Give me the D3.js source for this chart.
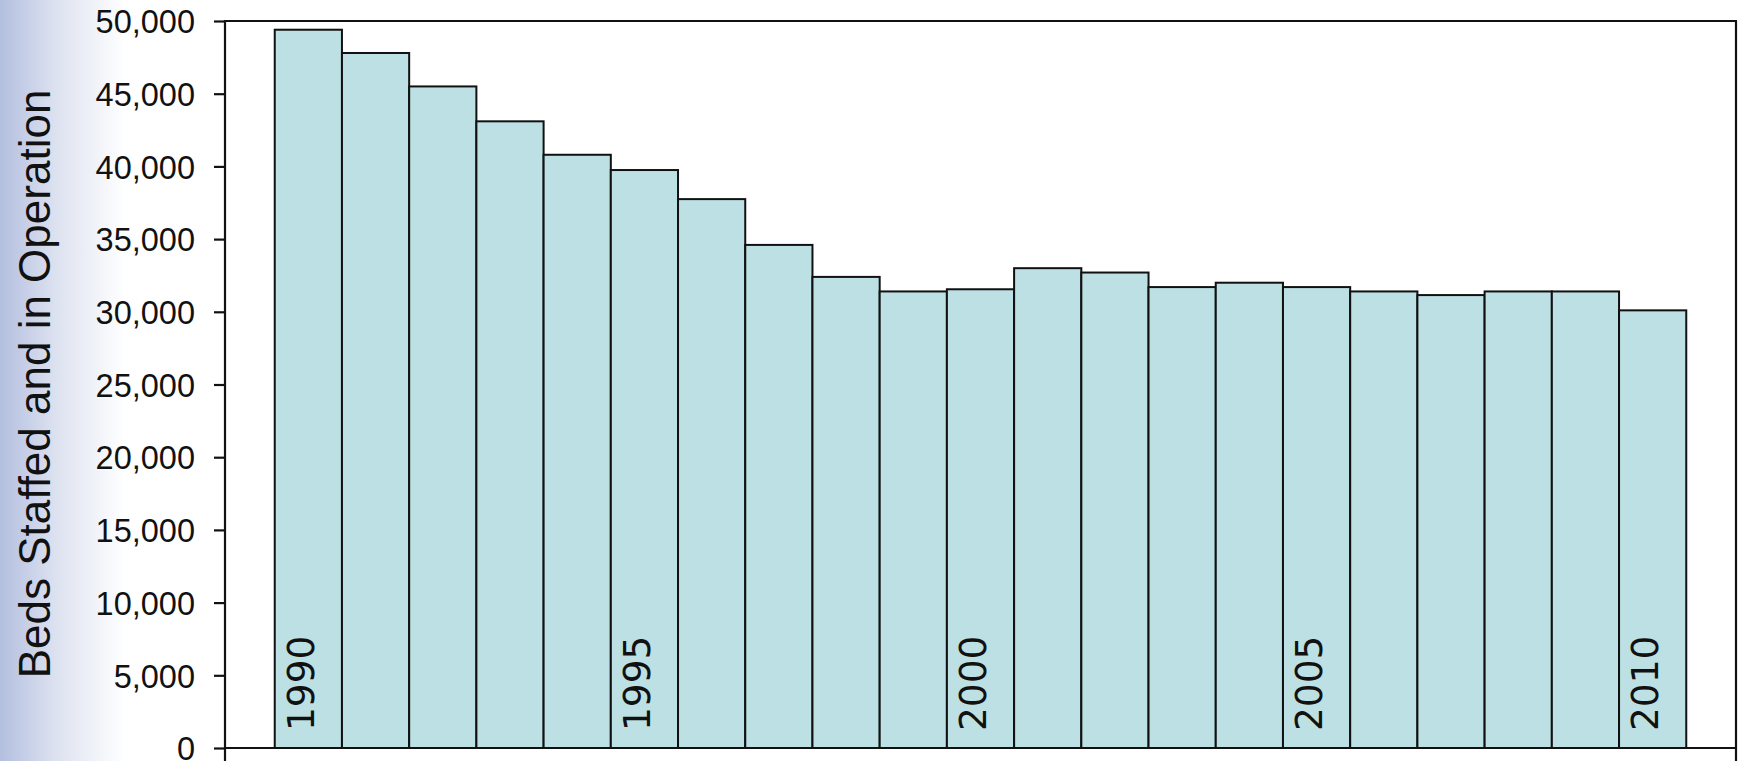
<!DOCTYPE html>
<html>
<head>
<meta charset="utf-8">
<script src="https://cdn.jsdelivr.net/npm/d3@7"></script>
<style>
  html, body { margin: 0; padding: 0; background: #fff; }
  svg { display: block; }
</style>
</head>
<body>
<svg id="chart" width="1738" height="761"></svg>
<script>
// Staffed hospital beds in operation, 1990–2010
const years = [1990, 1991, 1992, 1993, 1994, 1995, 1996, 1997, 1998, 1999, 2000,
               2001, 2002, 2003, 2004, 2005, 2006, 2007, 2008, 2009, 2010];
const beds = [49400, 47800, 45500, 43100, 40800, 39750, 37750, 34600, 32400, 31400, 31550,
              33000, 32700, 31700, 32000, 31700, 31400, 31150, 31400, 31400, 30100];
const labelledYears = [1990, 1995, 2000, 2005, 2010];
const yTicks = [0, 5000, 10000, 15000, 20000, 25000, 30000, 35000, 40000, 45000, 50000];
const yTitle = "Beds Staffed and in Operation";

const W = 1738, H = 761;
const plot = { left: 225, right: 1736, top: 21, bottom: 748 };

const svg = d3.select("#chart");

// soft bluish wash along the left edge
const defs = svg.append("defs");
const grad = defs.append("linearGradient").attr("id", "edgeWash")
  .attr("x1", "0").attr("x2", "1").attr("y1", "0").attr("y2", "0");
grad.append("stop").attr("offset", "0").attr("stop-color", "#b3bfdf");
grad.append("stop").attr("offset", "0.45").attr("stop-color", "#dde2f0");
grad.append("stop").attr("offset", "1").attr("stop-color", "#ffffff");
svg.append("rect").attr("x", 0).attr("y", 0).attr("width", 125).attr("height", H)
  .attr("fill", "url(#edgeWash)");

const x = d3.scaleBand().domain(years).range([plot.left, plot.right])
  .paddingInner(0).paddingOuter(0.74);
const y = d3.scaleLinear().domain([0, 50000]).range([plot.bottom, plot.top]);

// plot area background
svg.append("rect")
  .attr("x", plot.left).attr("y", plot.top)
  .attr("width", plot.right - plot.left).attr("height", plot.bottom - plot.top)
  .attr("fill", "#ffffff");

// bars
svg.append("g").selectAll("rect").data(years).join("rect")
  .attr("x", d => x(d))
  .attr("y", (d, i) => y(beds[i]))
  .attr("width", x.bandwidth())
  .attr("height", (d, i) => y(0) - y(beds[i]))
  .attr("fill", "#bce0e3")
  .attr("stroke", "#111")
  .attr("stroke-width", 2);

// year labels inside the bars
svg.append("g").selectAll("text").data(labelledYears).join("text")
  .attr("transform", d => `translate(${x(d) + x.bandwidth() / 2 + 5.5},731) rotate(-90)`)
  .attr("text-anchor", "start")
  .attr("font-family", "'DejaVu Sans', Verdana, sans-serif")
  .attr("font-size", 37.5)
  .attr("fill", "#111")
  .text(d => d);

// frame: top and right borders, baseline
const frame = svg.append("g").attr("stroke", "#111").attr("stroke-width", 2.2).attr("fill", "none");
frame.append("line").attr("x1", plot.left).attr("x2", plot.right + 1)
  .attr("y1", plot.top).attr("y2", plot.top);
frame.append("line").attr("x1", plot.right).attr("x2", plot.right)
  .attr("y1", plot.top).attr("y2", H);
frame.append("line").attr("x1", plot.left).attr("x2", plot.right)
  .attr("y1", plot.bottom).attr("y2", plot.bottom);

// y axis
const yAxis = d3.axisLeft(y).tickValues(yTicks).tickFormat(d3.format(","))
  .tickSize(11).tickPadding(19);
const gy = svg.append("g").attr("transform", `translate(${plot.left},0)`).call(yAxis);
gy.select(".domain").remove();
gy.selectAll(".tick line").attr("stroke", "#111").attr("stroke-width", 2.2);
gy.selectAll(".tick text")
  .attr("font-family", "'Liberation Sans', Arial, sans-serif")
  .attr("font-size", 32.5)
  .attr("fill", "#111")
  .attr("dy", "0.36em");
svg.append("line").attr("x1", plot.left).attr("x2", plot.left)
  .attr("y1", plot.top - 1).attr("y2", H)
  .attr("stroke", "#111").attr("stroke-width", 2.2);

// y axis title
svg.append("text")
  .attr("transform", `translate(50,384) rotate(-90)`)
  .attr("text-anchor", "middle")
  .attr("font-family", "'Liberation Sans', Arial, sans-serif")
  .attr("font-size", 44)
  .attr("fill", "#111")
  .text(yTitle);
</script>
</body>
</html>
